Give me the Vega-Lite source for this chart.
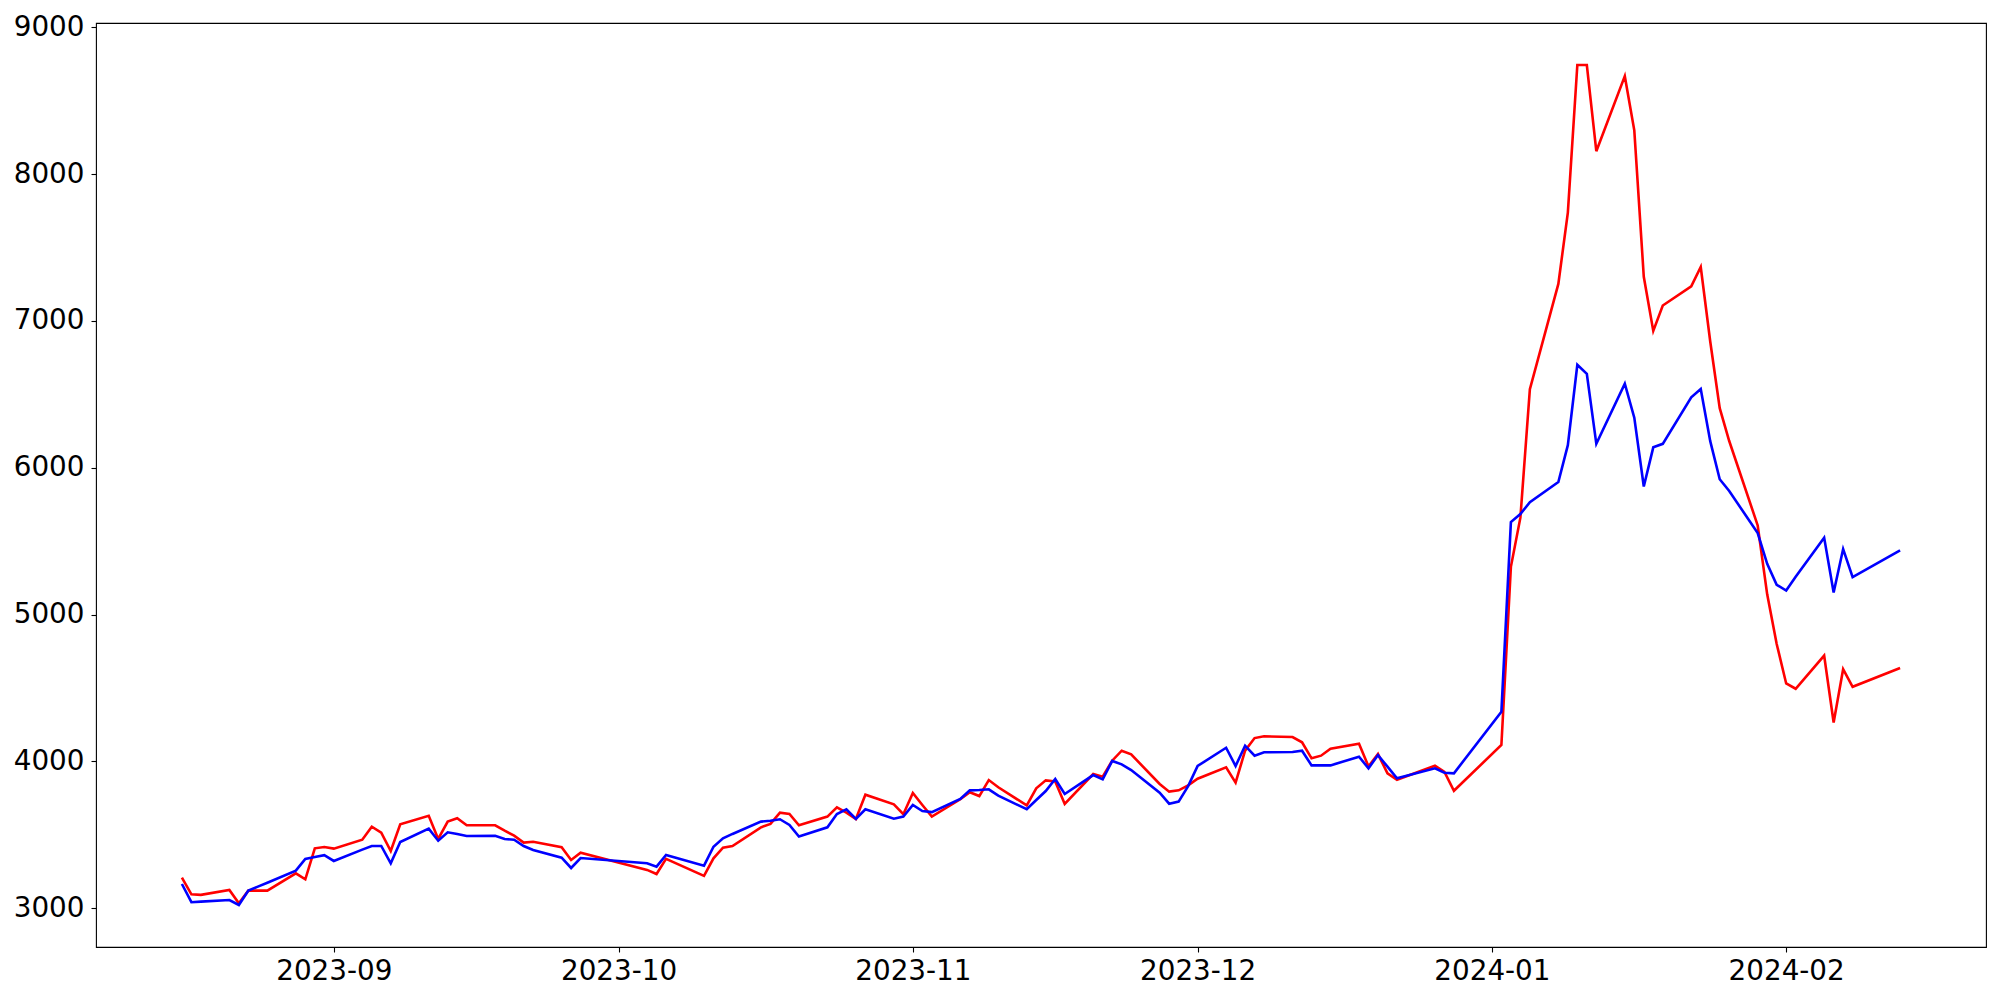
{
  "$schema": "https://vega.github.io/schema/vega-lite/v6.json",
  "width": 1890,
  "height": 924,
  "autosize": {"type": "none"},
  "padding": {"left": 96, "top": 23, "right": 14, "bottom": 53},
  "background": "white",
  "config": {
    "view": {"stroke": "black", "strokeWidth": 1.1},
    "font": "DejaVu Sans",
    "axis": {
      "domain": false,
      "grid": false,
      "ticks": true,
      "tickColor": "black",
      "tickSize": 5,
      "tickWidth": 1.1,
      "labelFont": "DejaVu Sans",
      "labelFontSize": 27.8,
      "labelColor": "black",
      "labelPadding": 5,
      "title": null
    }
  },
  "data": {
    "values": [
      {"date": "2023-08-16", "r": 3208, "b": 3165},
      {"date": "2023-08-17", "r": 3095, "b": 3041},
      {"date": "2023-08-18", "r": 3091, "b": 3045},
      {"date": "2023-08-21", "r": 3125, "b": 3056},
      {"date": "2023-08-22", "r": 3034, "b": 3022},
      {"date": "2023-08-23", "r": 3120, "b": 3120},
      {"date": "2023-08-24", "r": 3120, "b": 3147},
      {"date": "2023-08-25", "r": 3120, "b": 3174},
      {"date": "2023-08-28", "r": 3238, "b": 3256},
      {"date": "2023-08-29", "r": 3197, "b": 3336},
      {"date": "2023-08-30", "r": 3408, "b": 3349},
      {"date": "2023-08-31", "r": 3417, "b": 3361},
      {"date": "2023-09-01", "r": 3406, "b": 3322},
      {"date": "2023-09-04", "r": 3467, "b": 3399},
      {"date": "2023-09-05", "r": 3555, "b": 3424},
      {"date": "2023-09-06", "r": 3515, "b": 3424},
      {"date": "2023-09-07", "r": 3390, "b": 3306},
      {"date": "2023-09-08", "r": 3572, "b": 3451},
      {"date": "2023-09-11", "r": 3630, "b": 3542},
      {"date": "2023-09-12", "r": 3472, "b": 3460},
      {"date": "2023-09-13", "r": 3590, "b": 3517},
      {"date": "2023-09-14", "r": 3613, "b": 3506},
      {"date": "2023-09-15", "r": 3565, "b": 3492},
      {"date": "2023-09-18", "r": 3565, "b": 3494},
      {"date": "2023-09-19", "r": 3528, "b": 3472},
      {"date": "2023-09-20", "r": 3494, "b": 3467},
      {"date": "2023-09-21", "r": 3447, "b": 3424},
      {"date": "2023-09-22", "r": 3453, "b": 3397},
      {"date": "2023-09-25", "r": 3415, "b": 3344},
      {"date": "2023-09-26", "r": 3329, "b": 3274},
      {"date": "2023-09-27", "r": 3378, "b": 3342},
      {"date": "2023-10-04", "r": 3261, "b": 3306},
      {"date": "2023-10-05", "r": 3233, "b": 3283},
      {"date": "2023-10-06", "r": 3336, "b": 3363},
      {"date": "2023-10-10", "r": 3220, "b": 3290},
      {"date": "2023-10-11", "r": 3340, "b": 3419},
      {"date": "2023-10-12", "r": 3413, "b": 3476},
      {"date": "2023-10-13", "r": 3424, "b": 3506},
      {"date": "2023-10-16", "r": 3551, "b": 3590},
      {"date": "2023-10-17", "r": 3574, "b": 3596},
      {"date": "2023-10-18", "r": 3651, "b": 3606},
      {"date": "2023-10-19", "r": 3642, "b": 3567},
      {"date": "2023-10-20", "r": 3565, "b": 3488},
      {"date": "2023-10-23", "r": 3624, "b": 3551},
      {"date": "2023-10-24", "r": 3687, "b": 3642},
      {"date": "2023-10-25", "r": 3651, "b": 3674},
      {"date": "2023-10-26", "r": 3608, "b": 3608},
      {"date": "2023-10-27", "r": 3773, "b": 3674},
      {"date": "2023-10-30", "r": 3708, "b": 3610},
      {"date": "2023-10-31", "r": 3640, "b": 3624},
      {"date": "2023-11-01", "r": 3785, "b": 3703},
      {"date": "2023-11-02", "r": 3703, "b": 3662},
      {"date": "2023-11-03", "r": 3624, "b": 3655},
      {"date": "2023-11-06", "r": 3742, "b": 3744},
      {"date": "2023-11-07", "r": 3790, "b": 3803},
      {"date": "2023-11-08", "r": 3764, "b": 3805},
      {"date": "2023-11-09", "r": 3873, "b": 3810},
      {"date": "2023-11-10", "r": 3824, "b": 3767},
      {"date": "2023-11-13", "r": 3700, "b": 3674},
      {"date": "2023-11-14", "r": 3817, "b": 3737},
      {"date": "2023-11-15", "r": 3871, "b": 3798},
      {"date": "2023-11-16", "r": 3864, "b": 3880},
      {"date": "2023-11-17", "r": 3710, "b": 3778},
      {"date": "2023-11-20", "r": 3914, "b": 3907},
      {"date": "2023-11-21", "r": 3896, "b": 3878},
      {"date": "2023-11-22", "r": 4005, "b": 4003},
      {"date": "2023-11-23", "r": 4073, "b": 3980},
      {"date": "2023-11-24", "r": 4048, "b": 3941},
      {"date": "2023-11-27", "r": 3846, "b": 3787},
      {"date": "2023-11-28", "r": 3794, "b": 3712},
      {"date": "2023-11-29", "r": 3803, "b": 3726},
      {"date": "2023-11-30", "r": 3837, "b": 3832},
      {"date": "2023-12-01", "r": 3882, "b": 3969},
      {"date": "2023-12-04", "r": 3960, "b": 4093},
      {"date": "2023-12-05", "r": 3855, "b": 3969},
      {"date": "2023-12-06", "r": 4073, "b": 4107},
      {"date": "2023-12-07", "r": 4159, "b": 4039},
      {"date": "2023-12-08", "r": 4171, "b": 4062},
      {"date": "2023-12-11", "r": 4166, "b": 4064},
      {"date": "2023-12-12", "r": 4130, "b": 4073},
      {"date": "2023-12-13", "r": 4021, "b": 3973},
      {"date": "2023-12-14", "r": 4039, "b": 3973},
      {"date": "2023-12-15", "r": 4086, "b": 3973},
      {"date": "2023-12-18", "r": 4120, "b": 4032},
      {"date": "2023-12-19", "r": 3966, "b": 3953},
      {"date": "2023-12-20", "r": 4050, "b": 4043},
      {"date": "2023-12-21", "r": 3919, "b": 3964},
      {"date": "2023-12-22", "r": 3875, "b": 3885},
      {"date": "2023-12-26", "r": 3970, "b": 3953},
      {"date": "2023-12-27", "r": 3928, "b": 3923},
      {"date": "2023-12-28", "r": 3800, "b": 3919},
      {"date": "2024-01-02", "r": 4112, "b": 4338},
      {"date": "2024-01-03", "r": 5325, "b": 5630},
      {"date": "2024-01-04", "r": 5660, "b": 5685},
      {"date": "2024-01-05", "r": 6535, "b": 5765},
      {"date": "2024-01-08", "r": 7252, "b": 5903},
      {"date": "2024-01-09", "r": 7738, "b": 6154},
      {"date": "2024-01-10", "r": 8743, "b": 6701},
      {"date": "2024-01-11", "r": 8743, "b": 6640},
      {"date": "2024-01-12", "r": 8156, "b": 6163},
      {"date": "2024-01-15", "r": 8667, "b": 6572},
      {"date": "2024-01-16", "r": 8298, "b": 6341},
      {"date": "2024-01-17", "r": 7301, "b": 5872},
      {"date": "2024-01-18", "r": 6932, "b": 6139},
      {"date": "2024-01-19", "r": 7105, "b": 6163},
      {"date": "2024-01-22", "r": 7236, "b": 6480},
      {"date": "2024-01-23", "r": 7367, "b": 6536},
      {"date": "2024-01-24", "r": 6860, "b": 6181},
      {"date": "2024-01-25", "r": 6406, "b": 5922},
      {"date": "2024-01-26", "r": 6182, "b": 5842},
      {"date": "2024-01-29", "r": 5607, "b": 5555},
      {"date": "2024-01-30", "r": 5138, "b": 5346},
      {"date": "2024-01-31", "r": 4800, "b": 5203},
      {"date": "2024-02-01", "r": 4531, "b": 5164},
      {"date": "2024-02-02", "r": 4495, "b": 5258},
      {"date": "2024-02-05", "r": 4721, "b": 5524},
      {"date": "2024-02-06", "r": 4265, "b": 5151},
      {"date": "2024-02-07", "r": 4628, "b": 5446},
      {"date": "2024-02-08", "r": 4508, "b": 5255},
      {"date": "2024-02-13", "r": 4636, "b": 5438}
    ]
  },
  "encoding": {
    "x": {
      "field": "date",
      "type": "temporal",
      "title": null,
      "scale": {
        "type": "utc",
        "domain": [
          {"year": 2023, "month": 8, "date": 6, "hours": 22, "minutes": 48, "utc": true},
          {"year": 2024, "month": 2, "date": 22, "hours": 1, "minutes": 12, "utc": true}
        ]
      },
      "axis": {
        "values": [
          {"year": 2023, "month": 9, "date": 1, "utc": true},
          {"year": 2023, "month": 10, "date": 1, "utc": true},
          {"year": 2023, "month": 11, "date": 1, "utc": true},
          {"year": 2023, "month": 12, "date": 1, "utc": true},
          {"year": 2024, "month": 1, "date": 1, "utc": true},
          {"year": 2024, "month": 2, "date": 1, "utc": true}
        ],
        "format": "%Y-%m",
        "labelAlign": "center",
        "labelBaseline": "top",
        "labelPadding": 5
      }
    }
  },
  "layer": [
    {
      "mark": {"type": "line", "color": "#ff0000", "strokeWidth": 2.6},
      "encoding": {
        "y": {
          "field": "r",
          "type": "quantitative",
          "title": null,
          "scale": {"domain": [2736, 9029], "nice": false, "zero": false},
          "axis": {"values": [3000, 4000, 5000, 6000, 7000, 8000, 9000], "format": "d", "labelPadding": 7}
        }
      }
    },
    {
      "mark": {"type": "line", "color": "#0000ff", "strokeWidth": 2.6},
      "encoding": {
        "y": {"field": "b", "type": "quantitative", "title": null}
      }
    }
  ]
}
